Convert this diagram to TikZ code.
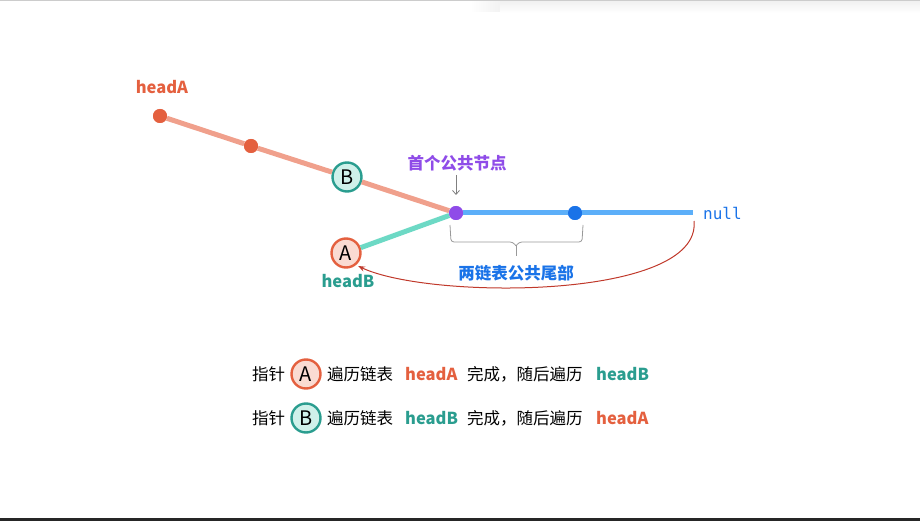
\documentclass[tikz,border=0pt]{standalone}
\usepackage{fontspec}
\setmainfont{Noto Sans CJK SC}
\newfontfamily\monof{DejaVu Sans Mono}
\usetikzlibrary{arrows.meta}
\definecolor{cOr}{HTML}{E4603F}
\definecolor{cOrFill}{HTML}{FADBD2}
\definecolor{cTe}{HTML}{2A9D8F}
\definecolor{cTeFill}{HTML}{CFF1EA}
\definecolor{cSalmon}{HTML}{F0A08C}
\definecolor{cTeLine}{HTML}{6DD9C5}
\definecolor{cBlLine}{HTML}{5CAFF9}
\definecolor{cBl}{HTML}{1A73E8}
\definecolor{cPu}{HTML}{8F4CE8}
\definecolor{cRed}{HTML}{C0392B}
\tikzset{
  dotnode/.style={circle, inner sep=0pt, minimum size=14pt, fill=#1},
  ptrA/.style={circle, draw=cOr, fill=cOrFill, line width=2.4pt, minimum size=29pt, inner sep=0pt, font=\fontsize{20}{20}\selectfont},
  ptrB/.style={circle, draw=cTe, fill=cTeFill, line width=2.4pt, minimum size=29pt, inner sep=0pt, font=\fontsize{20}{20}\selectfont},
  txt/.style={inner sep=0pt, anchor=west, font=\fontsize{16.5}{16.5}\selectfont},
  btxt/.style={inner sep=0pt, font=\fontsize{16.5}{16.5}\selectfont\bfseries, text=#1},
  link/.style={line width=5pt, draw=#1},
}
\begin{document}
\begin{tikzpicture}[x=1pt,y=-1pt]
\path[use as bounding box] (0,0) rectangle (920,521);
% top edge and shadow
\shade[left color=white, right color=black!5] (470,0) rectangle (500,12);
\shade[top color=black!6, bottom color=white] (500,0) rectangle (920,13);
\draw[black!20, line width=1pt] (0,0.5) -- (920,0.5);
\draw[black!85, line width=3pt] (0,519.5) -- (920,519.5);

% nodes
\node[dotnode=cOr] (a1) at (160,116) {};
\node[dotnode=cOr] (a2) at (251,146) {};
\node[ptrB] (pB) at (347,177) {B};
\node[dotnode=cPu] (c1) at (456,213) {};
\node[dotnode=cBl] (c2) at (575,213) {};
\coordinate (tail) at (693,213);
\node[ptrA] (pA) at (346,253) {A};

% links
\draw[link=cSalmon] (a1) -- (a2);
\draw[link=cSalmon] (a2) -- (pB);
\draw[link=cSalmon] (pB) -- (c1);
\draw[link=cTeLine] (pA) -- (c1);
\draw[link=cBlLine] (c1) -- (c2);
\draw[link=cBlLine] (c2) -- (tail);
% redraw dots on top
\node[dotnode=cOr] at (160,116) {};
\node[dotnode=cOr] at (251,146) {};
\node[dotnode=cPu] at (456,213) {};
\node[dotnode=cBl] at (575,213) {};

% labels
\node[btxt=cOr] (lA) at (162,87) {headA};
\node[btxt=cTe] (lB) at (348,281) {headB};
\node[inner sep=0pt, anchor=west, text=cBl, font=\monof\fontsize{16}{16}\selectfont] (nul) at (703,213) {null};
\node[btxt=cPu] (first) at (457,163) {首个公共节点};
\draw[black!50, line width=0.8pt, -{Straight Barb[length=4pt,width=7pt]}] (456,175) -- (456,195);
\node[btxt=cBl] (tailtxt) at (516,273) {两链表公共尾部};

% brace
\draw[black!40, line width=0.8pt, rounded corners=3pt] (450,225) -- (451,242) -- (513,242) -- (516,246);
\draw[black!40, line width=0.8pt, rounded corners=3pt] (583,225) -- (582,242) -- (519,242) -- (516,246);
\draw[black!40, line width=0.8pt] (516,245) -- (516,256);

% curve back
\draw[cRed, line width=1pt, -{Stealth[length=7pt,width=5pt]}] (694,221) .. controls (702,300) and (430,300) .. (358,266);

% legend row 1
\node[txt] (r1a) at (252,374) {指针};
\node[ptrA] (r1p) at (306,374) {A};
\node[txt] (r1b) at (327,374) {遍历链表};
\node[btxt=cOr, anchor=west] (r1c) at (405,374) {headA};
\node[txt] (r1d) at (467,374) {完成，随后遍历};
\node[btxt=cTe, anchor=west] (r1e) at (596,374) {headB};
% legend row 2
\node[txt] (r2a) at (252,418) {指针};
\node[ptrB] (r2p) at (306,418) {B};
\node[txt] (r2b) at (327,418) {遍历链表};
\node[btxt=cTe, anchor=west] (r2c) at (405,418) {headB};
\node[txt] (r2d) at (467,418) {完成，随后遍历};
\node[btxt=cOr, anchor=west] (r2e) at (596,418) {headA};
\end{tikzpicture}
\end{document}
